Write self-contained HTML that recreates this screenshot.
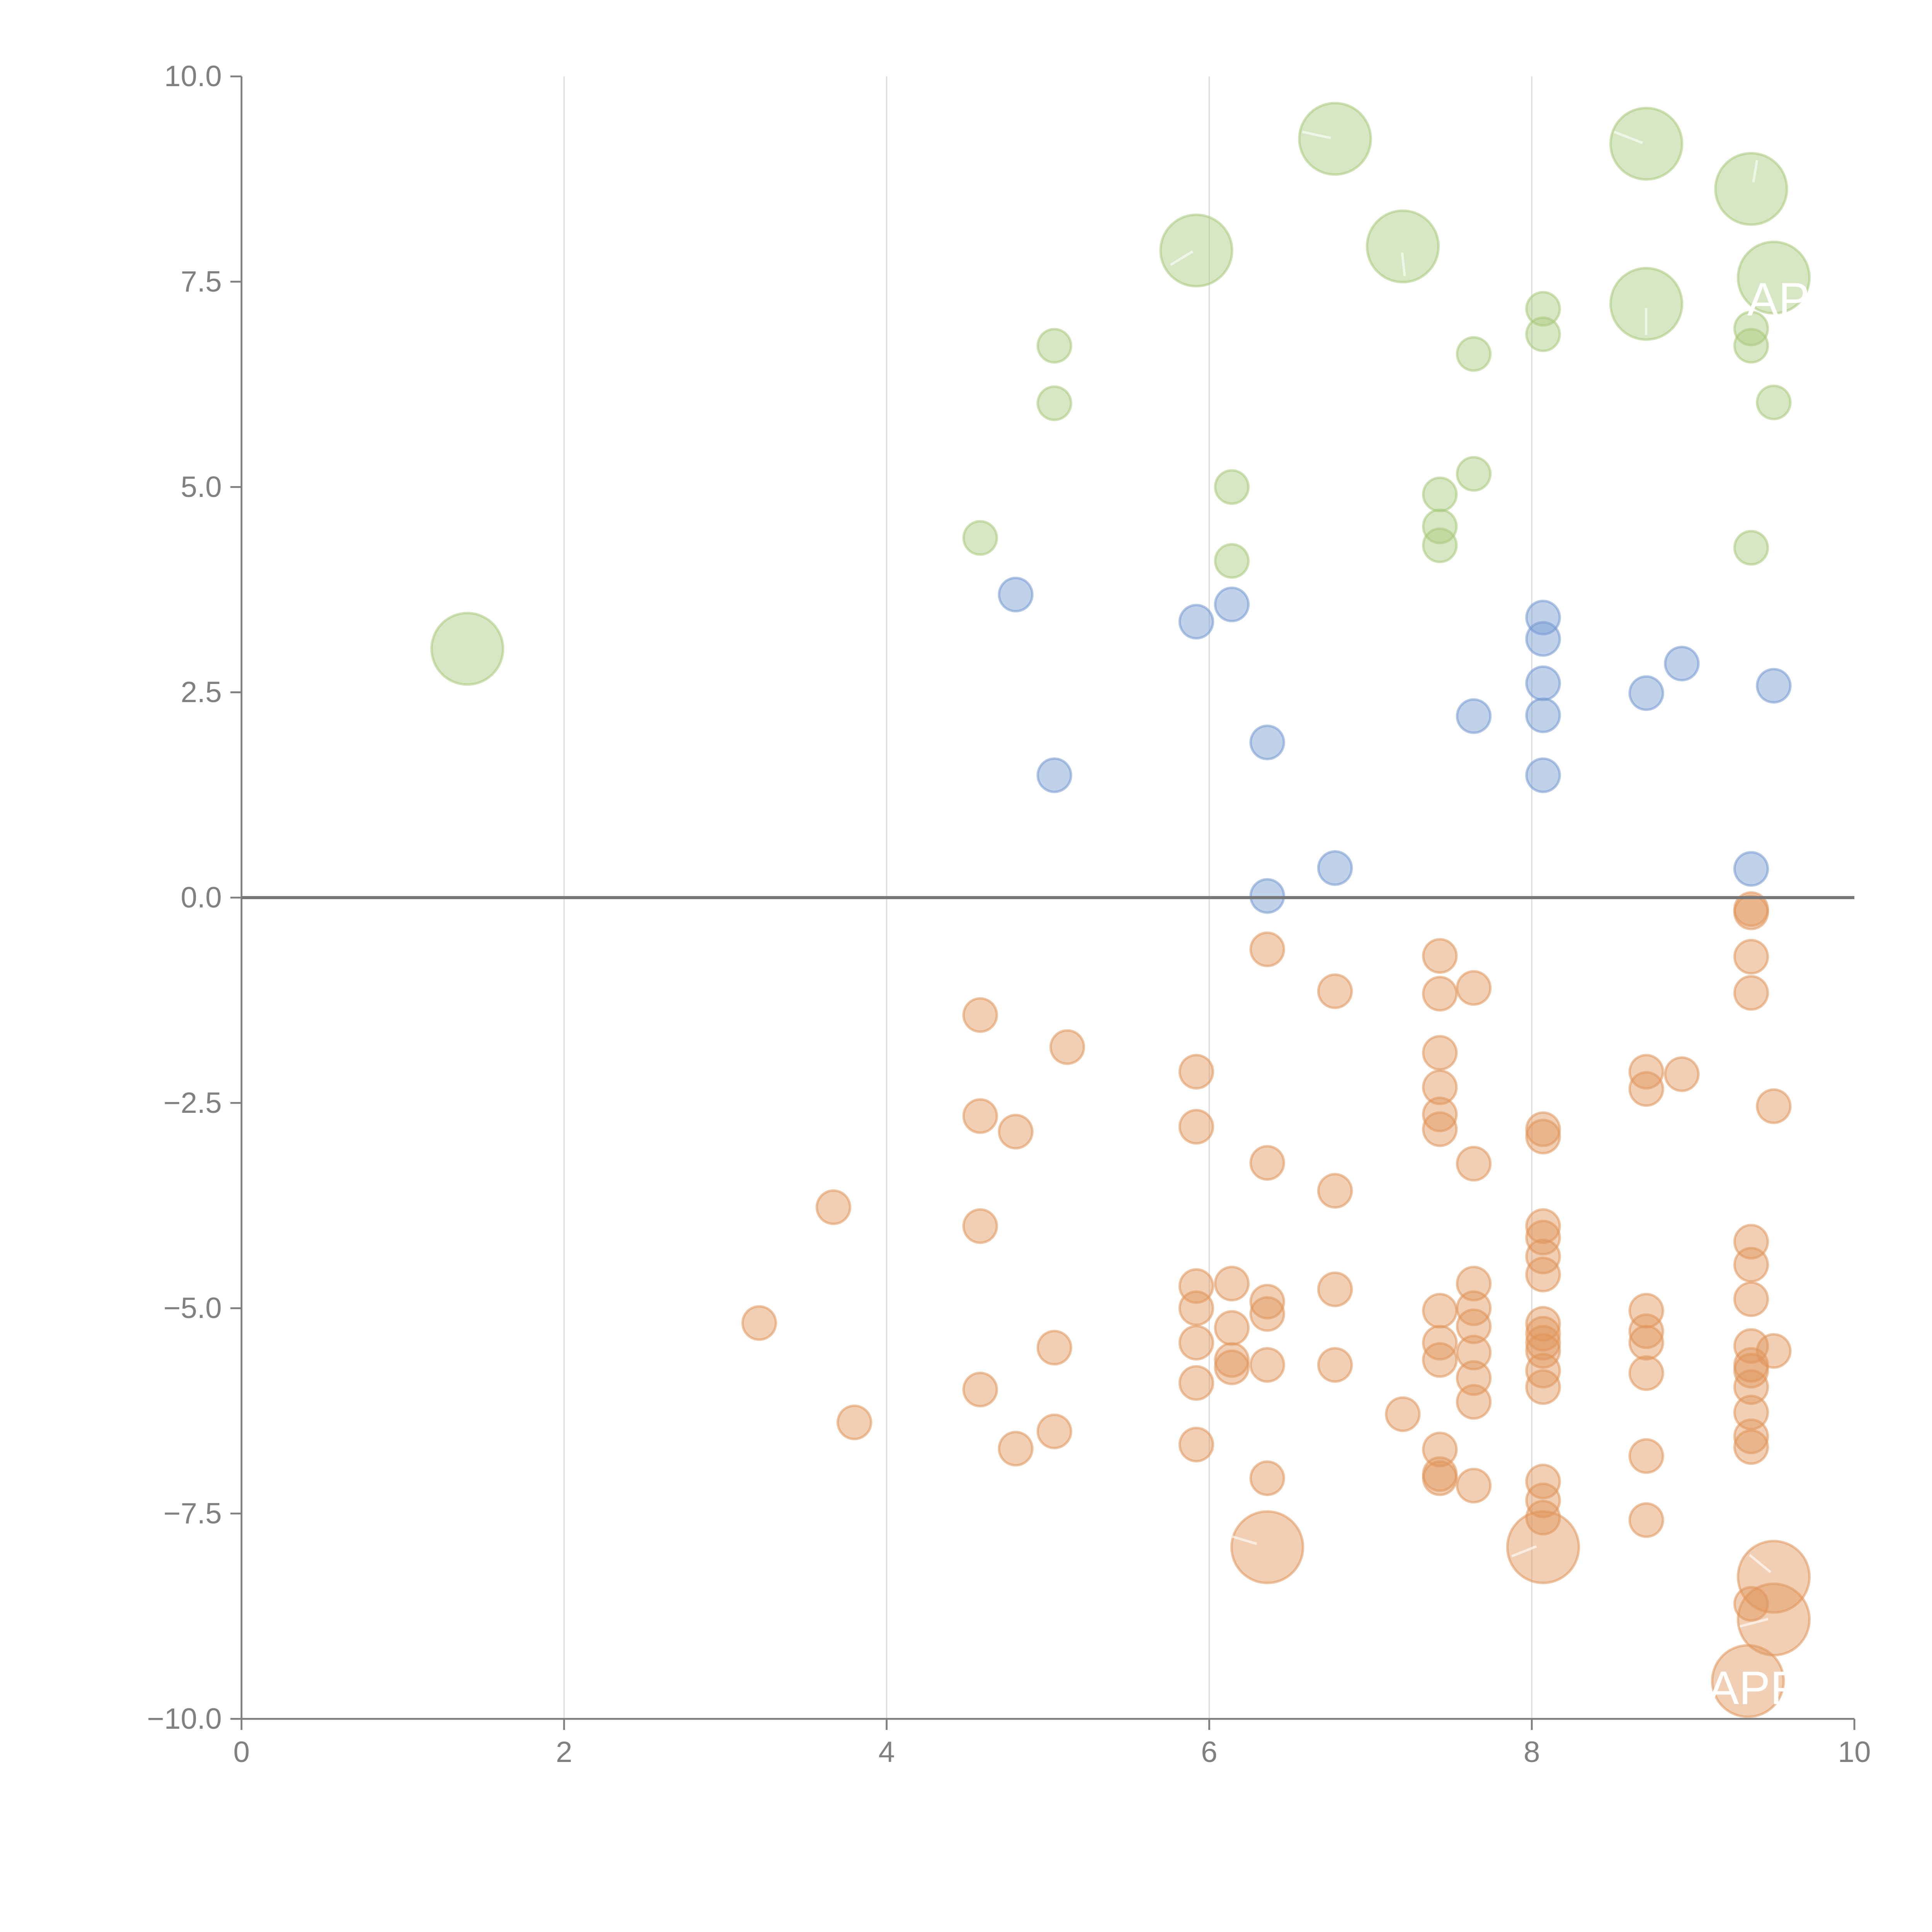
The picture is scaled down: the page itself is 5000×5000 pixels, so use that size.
<!DOCTYPE html>
<html><head><meta charset="utf-8"><style>html,body{margin:0;padding:0;background:#fff}svg{display:block}</style></head>
<body>
<svg id="chart" width="5000" height="5000" viewBox="0 0 1568 1568" xmlns="http://www.w3.org/2000/svg" font-family="Liberation Sans, sans-serif">
<g id="grid"></g>
<g id="axes"></g>
<g id="marks"></g>
</svg>
<script>
const xTicks=[0,2,4,6,8,10];
const yTicks=[10,7.5,5,2.5,0,-2.5,-5,-7.5,-10];
const yTickLabels=["10.0","7.5","5.0","2.5","0.0","\u22122.5","\u22125.0","\u22127.5","\u221210.0"];
const greenBigX=[1.4,6.78,5.92,7.2,8.71,9.36,9.5,8.71];
const greenBigY=[3.03,9.24,7.88,7.93,9.18,8.63,7.55,7.23];
const greenX=[5.04,5.04,4.58,6.14,6.14,7.43,7.43,7.43,7.64,7.64,8.07,8.07,9.36,9.36,9.5,9.36];
const greenY=[6.72,6.02,4.38,5.0,4.1,4.91,4.52,4.29,5.16,6.62,7.17,6.86,6.93,6.72,6.03,4.26];
const blueX=[4.8,5.92,6.14,5.04,6.36,6.36,6.78,7.64,8.07,8.07,8.07,8.07,8.07,8.71,8.93,9.5,9.36];
const blueY=[3.69,3.36,3.57,1.49,1.89,0.02,0.36,2.21,3.41,3.15,2.61,2.22,1.49,2.49,2.85,2.58,0.35];
const orangeX=[6.36,6.78,7.43,7.43,7.64,4.58,5.12,5.92,5.92,4.58,4.8,3.67,4.58,3.21,3.8,4.58,4.8,5.04,5.04,5.92,5.92,5.92,5.92,5.92,6.14,6.14,6.14,6.14,6.36,6.36,6.36,6.36,6.36,6.78,6.78,6.78,7.2,7.43,7.43,7.43,7.43,7.43,7.43,7.43,7.43,7.43,7.43,7.64,7.64,7.64,7.64,7.64,7.64,7.64,7.64,8.07,8.07,8.07,8.07,8.07,8.07,8.07,8.07,8.07,8.07,8.07,8.07,8.07,8.07,8.07,8.71,8.71,8.93,8.71,8.71,8.71,8.71,8.71,8.71,9.36,9.36,9.36,9.36,9.5,9.36,9.36,9.36,9.36,9.36,9.36,9.36,9.36,9.36,9.36,9.5,9.36];
const orangeY=[-0.63,-1.14,-0.71,-1.17,-1.1,-1.43,-1.82,-2.12,-2.79,-2.66,-2.85,-3.77,-4.0,-5.18,-6.39,-5.99,-6.71,-5.48,-6.5,-4.73,-5.0,-5.42,-5.91,-6.66,-4.7,-5.24,-5.63,-5.72,-3.23,-4.92,-5.07,-5.69,-7.07,-3.57,-4.77,-5.69,-6.29,-1.89,-2.31,-2.64,-2.82,-5.03,-5.42,-5.63,-6.72,-7.02,-7.07,-3.24,-4.7,-5.0,-5.22,-5.54,-5.85,-6.14,-7.16,-2.82,-2.91,-4.0,-4.14,-4.37,-4.59,-5.19,-5.31,-5.42,-5.52,-5.76,-5.96,-7.11,-7.34,-7.55,-2.12,-2.33,-2.15,-5.03,-5.28,-5.42,-5.79,-6.8,-7.58,-0.14,-0.18,-0.72,-1.16,-2.54,-4.19,-4.47,-4.89,-5.46,-5.69,-5.76,-5.96,-6.27,-6.56,-6.69,-5.52,-8.6];
const orangeBigX=[6.36,8.07,9.5,9.5,9.34];
const orangeBigY=[-7.91,-7.91,-8.27,-8.79,-9.54];

const X0=196,X1=1505,Y0=1395,Y1=62;
const sx=v=>X0+(v-0)/(10-0)*(X1-X0);
const sy=v=>Y0-(v+10)/20*(Y0-Y1);
const NS="http://www.w3.org/2000/svg";
function mk(tag,parent,attrs){const e=document.createElementNS(NS,tag);for(const k in attrs)e.setAttribute(k,attrs[k]);parent.appendChild(e);return e;}
const grid=document.getElementById('grid'),axes=document.getElementById('axes'),marks=document.getElementById('marks');
xTicks.forEach(t=>{if(t>0&&t<10){const l=mk('line',grid,{x1:sx(t),x2:sx(t),y1:Y1,y2:Y0,stroke:'#dcdcdc','stroke-width':1});

}});
let a=mk('line',axes,{x1:X0,x2:X0,y1:Y1,y2:Y0,stroke:'#808080','stroke-width':1.5});


a=mk('line',axes,{x1:X0,x2:X1,y1:Y0,y2:Y0,stroke:'#808080','stroke-width':1.5});


xTicks.forEach(t=>{const l=mk('line',axes,{x1:sx(t),x2:sx(t),y1:Y0,y2:Y0+9,stroke:'#808080','stroke-width':1.5});


const tx=mk('text',axes,{x:sx(t),y:Y0+35,'text-anchor':'middle','font-size':24,fill:'#808080'});tx.textContent=String(t);

});
yTicks.forEach((t,i)=>{const l=mk('line',axes,{x1:X0-9,x2:X0,y1:sy(t),y2:sy(t),stroke:'#808080','stroke-width':1.5});


const tx=mk('text',axes,{x:X0-16,y:sy(t)+8,'text-anchor':'end','font-size':24,fill:'#808080'});tx.textContent=yTickLabels[i];

});
function series(xs,ys,r,col,name){xs.forEach((x,i)=>{const c=mk('circle',marks,{cx:sx(x),cy:sy(ys[i]),r:r,fill:col,'fill-opacity':0.45,stroke:col,'stroke-opacity':0.55,'stroke-width':2});

});}
series(greenX,greenY,13.5,'#a8c97a','green-point');
series(greenBigX,greenBigY,29,'#a8c97a','green-big-point');
series(blueX,blueY,13.5,'#7399d0','blue-point');
series(orangeX,orangeY,13.5,'#e0955a','orange-point');
series(orangeBigX,orangeBigY,29,'#e0955a','orange-big-point');
const z=mk('line',marks,{x1:X0,x2:X1,y1:sy(0),y2:sy(0),stroke:'#777','stroke-width':2.5});


[[1057,107,1080,112],[950,215,968,204],[1138,205,1140,224],[1310,107,1333,116],[1423,148,1426,130],[1336,250,1336,272],[1020,1253,1000,1247],[1227,1263,1247,1255],[1437,1276,1420,1262],[1435,1314,1412,1320]].forEach(s=>{
const l=mk('line',marks,{x1:s[0],y1:s[1],x2:s[2],y2:s[3],stroke:'#fff','stroke-opacity':0.6,'stroke-width':2});

});
let t1=mk('text',marks,{x:1418,y:256,'font-size':38,fill:'#fff'});t1.textContent='AP';


let t2=mk('text',marks,{x:1386,y:1383,'font-size':38,fill:'#fff'});t2.textContent='APP';


</script>
</body></html>
